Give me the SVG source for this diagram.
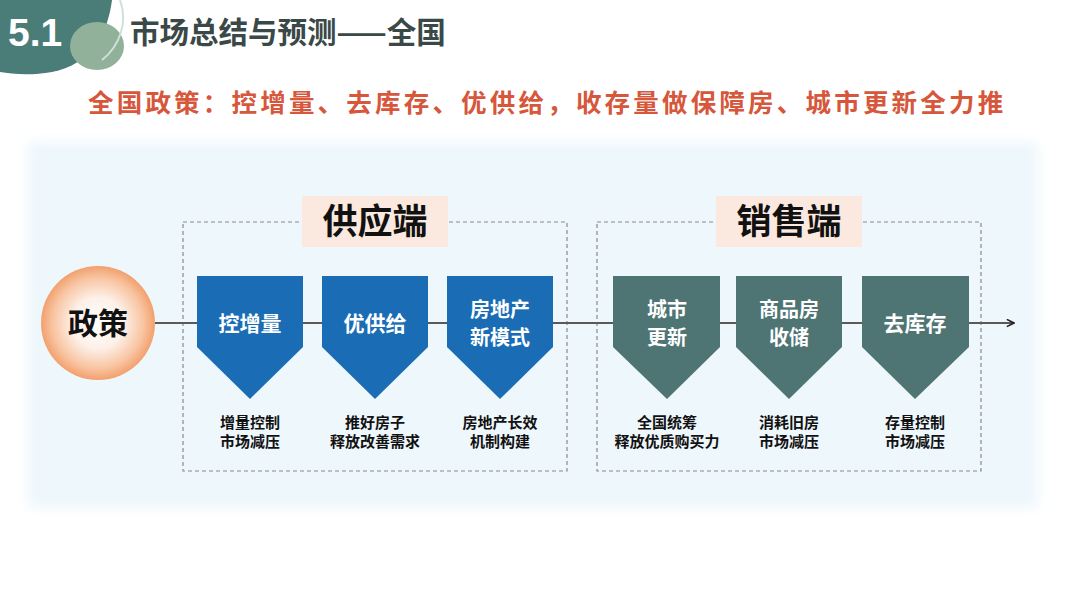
<svg xmlns="http://www.w3.org/2000/svg" width="1080" height="608" viewBox="0 0 1080 608">
<defs>
<style>
.cn{font-family:"Noto Sans CJK SC","Liberation Sans",sans-serif;font-weight:bold}
.blue{fill:#1a6db5}
.teal{fill:#4e7573}
.ptxt{fill:#fff;font-size:21px;text-anchor:middle}
.ptxt2{fill:#fff;font-size:20px;text-anchor:middle}
.cap{fill:#111;font-size:15px;text-anchor:middle}
.dash{fill:none;stroke:#8a8a8a;stroke-width:1.2;stroke-dasharray:4 3}
.lbl{fill:#fbe9e0}
.lbltxt{fill:#111;font-size:35px;text-anchor:middle}
</style>
<radialGradient id="orb" cx="0.5" cy="0.5" r="0.5">
<stop offset="0" stop-color="#ffffff"/>
<stop offset="0.45" stop-color="#fdf0e8"/>
<stop offset="0.8" stop-color="#f8c4a0"/>
<stop offset="1" stop-color="#f2a06e"/>
</radialGradient>
<filter id="soft" x="-5%" y="-10%" width="110%" height="120%"><feGaussianBlur stdDeviation="6"/></filter>
<marker id="arr" viewBox="0 0 10 10" refX="9" refY="5" markerWidth="9" markerHeight="9" markerUnits="userSpaceOnUse" orient="auto"><path d="M1,1 L9,5 L1,9" fill="none" stroke="#222" stroke-width="1.8"/></marker>
</defs>
<rect width="1080" height="608" fill="#ffffff"/>
<g id="header">
<path d="M0,0 L112,0 C108,32 92,64 52,72 C30,76 12,74 0,72 Z" fill="#4a7c78"/>
<ellipse cx="97" cy="46" rx="27" ry="24" fill="#91b19b"/>
<path d="M120,0 C128,22 120,46 102,60" fill="none" stroke="#cfe0da" stroke-width="2"/>
<text x="8" y="46" style="font-family:'Liberation Sans',sans-serif;font-weight:bold;font-size:39px;fill:#fff">5.1</text>
<text x="130" y="43" class="cn" style="font-size:29.5px;fill:#3b4848">市场总结与预测——全国</text>
<text x="88" y="112" class="cn" style="font-size:25.5px;fill:#d6573b;letter-spacing:3.2px">全国政策：控增量、去库存、优供给，收存量做保障房、城市更新全力推</text>
</g>
<rect x="28" y="142" width="1010" height="366" fill="#eef7fc" filter="url(#soft)"/>
<g id="boxes">
<rect x="183" y="222" width="384" height="249" class="dash"/>
<rect x="597" y="222" width="384" height="249" class="dash"/>
</g>
<g id="connectors">
<line x1="155" y1="323" x2="1014" y2="323" stroke="#5a5a5a" stroke-width="2.2" marker-end="url(#arr)"/>
</g>
<g id="supply-label">
<rect x="302" y="196" width="146" height="51" class="lbl"/>
<text x="375" y="234" class="cn lbltxt">供应端</text>
</g>
<g id="sales-label">
<rect x="716" y="196" width="146" height="51" class="lbl"/>
<text x="789" y="234" class="cn lbltxt">销售端</text>
</g>
<g id="policy">
<circle cx="98" cy="323" r="57" fill="url(#orb)"/>
<text x="98" y="334" class="cn" style="font-size:30px;fill:#111;text-anchor:middle">政策</text>
</g>
<g id="n1">
<path d="M197,276 H303 V347 L250,399 L197,347 Z" class="blue"/>
<text x="250" y="331" class="cn ptxt">控增量</text>
<text x="250" y="428" class="cn cap">增量控制</text>
<text x="250" y="447" class="cn cap">市场减压</text>
</g>
<g id="n2">
<path d="M322,276 H428 V347 L375,399 L322,347 Z" class="blue"/>
<text x="375" y="331" class="cn ptxt">优供给</text>
<text x="375" y="428" class="cn cap">推好房子</text>
<text x="375" y="447" class="cn cap">释放改善需求</text>
</g>
<g id="n3">
<path d="M447,276 H553 V347 L500,399 L447,347 Z" class="blue"/>
<text x="500" y="317" class="cn ptxt2">房地产</text>
<text x="500" y="345" class="cn ptxt2">新模式</text>
<text x="500" y="428" class="cn cap">房地产长效</text>
<text x="500" y="447" class="cn cap">机制构建</text>
</g>
<g id="n4">
<path d="M613,276 H720 V347 L667,399 L613,347 Z" class="teal"/>
<text x="667" y="317" class="cn ptxt2">城市</text>
<text x="667" y="345" class="cn ptxt2">更新</text>
<text x="667" y="428" class="cn cap">全国统筹</text>
<text x="667" y="447" class="cn cap">释放优质购买力</text>
</g>
<g id="n5">
<path d="M736,276 H842 V347 L789,399 L736,347 Z" class="teal"/>
<text x="789" y="317" class="cn ptxt2">商品房</text>
<text x="789" y="345" class="cn ptxt2">收储</text>
<text x="789" y="428" class="cn cap">消耗旧房</text>
<text x="789" y="447" class="cn cap">市场减压</text>
</g>
<g id="n6">
<path d="M862,276 H969 V347 L915,399 L862,347 Z" class="teal"/>
<text x="915" y="331" class="cn ptxt">去库存</text>
<text x="915" y="428" class="cn cap">存量控制</text>
<text x="915" y="447" class="cn cap">市场减压</text>
</g>
</svg>
